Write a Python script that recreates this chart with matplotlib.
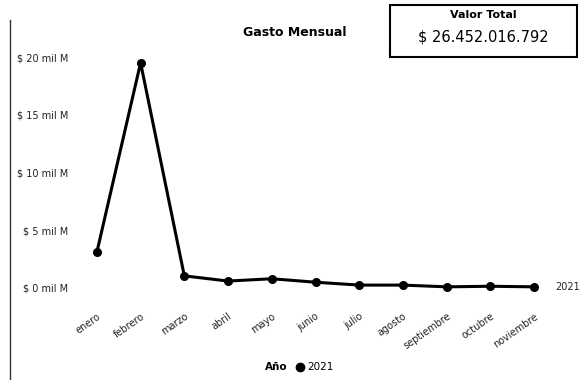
import matplotlib
matplotlib.use("Agg")
import matplotlib.pyplot as plt
from matplotlib.lines import Line2D
from matplotlib.patches import Rectangle

months = ["enero", "febrero", "marzo", "abril", "mayo", "junio", "julio",
          "agosto", "septiembre", "octubre", "noviembre"]
gasto_mil_m = [3.1, 19.5, 1.05, 0.6, 0.8, 0.5, 0.25, 0.25, 0.1, 0.15, 0.1]
yticks = [0, 5, 10, 15, 20]
ytick_labels = ["$ 0 mil M", "$ 5 mil M", "$ 10 mil M", "$ 15 mil M", "$ 20 mil M"]
series_name = "2021"
title = "Gasto Mensual"
total_title = "Valor Total"
total_value = "$ 26.452.016.792"

W, H = 581, 380
fig = plt.figure(figsize=(W / 100, H / 100), dpi=100)
fig.patch.set_facecolor("white")

left, right, top, bottom = 75, 556, 45, 300
ax = fig.add_axes([left / W, (H - bottom) / H, (right - left) / W, (bottom - top) / H])
x = list(range(len(months)))
ax.plot(x, gasto_mil_m, color="black", lw=2.2, marker="o", ms=5.5)
ax.set_xlim(-0.5, len(months) - 0.5)
ax.set_ylim(-1.04, 21.04)
ax.set_yticks(yticks)
ax.set_yticklabels(ytick_labels, fontsize=7, color="#222")
ax.set_xticks(x)
ax.set_xticklabels(months, rotation=35, ha="right", va="top",
                   rotation_mode="anchor", fontsize=7, color="#222")
ax.tick_params(axis="both", length=0)
ax.tick_params(axis="y", pad=5)
ax.tick_params(axis="x", pad=8)
for s in ax.spines.values():
    s.set_visible(False)
ax.set_facecolor("none")

# series label at end of line
ax.annotate(series_name, xy=(x[-1], gasto_mil_m[-1]), xytext=(15, 0),
            textcoords="offset points", fontsize=7, va="center", ha="left",
            color="#222")

# title
fig.text(295 / W, 1 - 32 / H, title, fontsize=9, fontweight="bold",
         ha="center", va="center")

# total box
fig.add_artist(Rectangle((390 / W, 1 - 57 / H), (577 - 390) / W, (57 - 5) / H,
                         transform=fig.transFigure, fill=False,
                         edgecolor="black", lw=1.5))
fig.text(483 / W, 1 - 15 / H, total_title, fontsize=8, fontweight="bold",
         ha="center", va="center")
fig.text(483 / W, 1 - 37 / H, total_value, fontsize=10.5,
         ha="center", va="center")

# left border line
fig.add_artist(Line2D([10 / W, 10 / W], [0, 1 - 20 / H],
                      transform=fig.transFigure, color="#333", lw=1))

# legend
fig.text(288 / W, 1 - 367 / H, "Año", fontsize=7.5, fontweight="bold",
         ha="right", va="center")
fig.add_artist(Line2D([300 / W], [1 - 367 / H], transform=fig.transFigure,
                      marker="o", color="black", ms=6, lw=0))
fig.text(307 / W, 1 - 367 / H, series_name, fontsize=7.5,
         ha="left", va="center")

fig.savefig("out.png", dpi=100)
